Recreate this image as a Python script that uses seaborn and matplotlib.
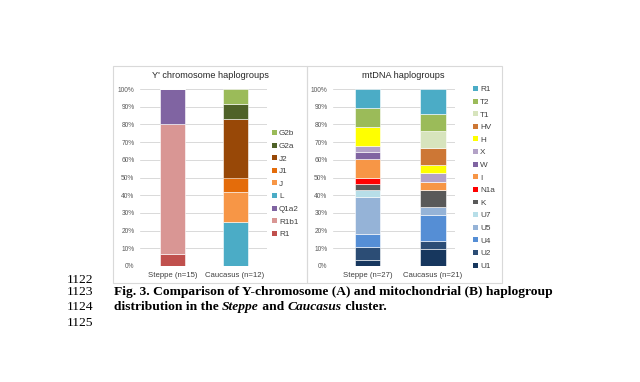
import matplotlib
matplotlib.use("Agg")
import matplotlib.pyplot as plt
import seaborn as sns
import numpy as np
from matplotlib.patches import Rectangle, Patch

# ---------------- data ----------------
y_cats = ["Steppe (n=15)", "Caucasus (n=12)"]
y_groups = ["R1", "R1b1", "Q1a2", "L", "J", "J1", "J2", "G2a", "G2b"]  # bottom -> top
y_steppe = [6.7, 73.3, 20.0, 0, 0, 0, 0, 0, 0]
y_caucasus = [0, 0, 0, 25.0, 16.7, 8.3, 33.3, 8.3, 8.4]
y_colors = ["#c0504d", "#d99694", "#8064a2", "#4bacc6", "#f79646",
            "#e46c0a", "#984807", "#4f6228", "#9bbb59"]

mt_cats = ["Steppe (n=27)", "Caucasus (n=21)"]
mt_groups = ["U1", "U2", "U4", "U5", "U7", "K", "N1a", "I", "W", "X",
             "H", "HV", "T1", "T2", "R1"]  # bottom -> top
mt_steppe = [3.6, 7.1, 7.1, 21.4, 3.6, 3.6, 3.6, 10.7, 3.6, 3.6,
             10.7, 0, 0, 10.7, 10.7]
mt_caucasus = [9.5, 4.8, 14.3, 4.8, 0, 9.5, 0, 4.8, 0, 4.8,
               4.8, 9.5, 9.5, 9.5, 14.2]
mt_colors = ["#17375e", "#2c4d75", "#558ed5", "#95b3d7", "#b7dee8",
             "#595959", "#ff0000", "#f79646", "#8064a2", "#b3a2c7",
             "#ffff00", "#cd7735", "#d7e4bd", "#9bbb59", "#4bacc6"]

y_title = "Y' chromosome haplogroups"
mt_title = "mtDNA haplogroups"
pct_ticks = list(range(0, 101, 10))

# ---------------- style ----------------
sns.set_theme(style="white")
plt.rcParams["font.family"] = ["Liberation Sans", "DejaVu Sans"]

W, H = 640, 382
fig = plt.figure(figsize=(6.4, 3.82), dpi=100)
fig.patch.set_facecolor("white")

def fx(px):
    return px / W

def fy(py):
    return 1 - py / H

# panel frames
for x0, x1 in [(113, 307), (307, 502)]:
    fig.patches.append(Rectangle((fx(x0), fy(283)), fx(x1) - fx(x0), fy(66) - fy(283),
                                 transform=fig.transFigure, fill=False,
                                 edgecolor="#d9d9d9", linewidth=0.8))

def draw_panel(ax, cats, groups, s_vals, c_vals, colors, xlim, width):
    bottom = np.zeros(2)
    for g, a, b, col in zip(groups, s_vals, c_vals, colors):
        vals = np.array([a, b], dtype=float)
        sns.barplot(x=cats, y=vals, bottom=bottom, color=col, width=width,
                    saturation=1, edgecolor="white", linewidth=0.4, ax=ax,
                    zorder=3)
        bottom = bottom + vals
    ax.set_ylim(0, 100)
    ax.set_xlim(*xlim)
    ax.set_yticks(pct_ticks)
    ax.set_yticklabels([f"{t}%" for t in pct_ticks])
    ax.yaxis.grid(True, color="#d9d9d9", linewidth=0.7, zorder=0)
    ax.xaxis.grid(False)
    ax.set_axisbelow(True)
    for s in ax.spines.values():
        s.set_visible(False)
    ax.tick_params(axis="y", labelsize=4.8, labelcolor="#595959", length=0, pad=4)
    ax.tick_params(axis="x", labelsize=5.6, labelcolor="#404040", length=0, pad=4)
    ax.set_xlabel("")
    ax.set_ylabel("")
    ax.patch.set_alpha(0)
    handles = [Patch(facecolor=c, edgecolor="none") for c in colors[::-1]]
    return handles

leg_kw = dict(loc="upper left", bbox_transform=fig.transFigure, frameon=False,
              fontsize=5.9, handlelength=0.55, handleheight=0.55,
              handletextpad=0.3, labelspacing=0.64, borderpad=0,
              borderaxespad=0, labelcolor="#404040")

# left panel
ax1 = fig.add_axes([fx(140), fy(266), fx(267) - fx(140), fy(89) - fy(266)])
h1 = draw_panel(ax1, y_cats, y_groups, y_steppe, y_caucasus, y_colors,
                (-0.52, 1.51), 0.4)
ax1.legend(h1, y_groups[::-1], bbox_to_anchor=(fx(272), fy(130)), **leg_kw)
fig.text(fx(210), fy(75), y_title, ha="center", va="center", fontsize=6.6,
         color="#262626")

# right panel
ax2 = fig.add_axes([fx(333), fy(266), fx(455) - fx(333), fy(89) - fy(266)])
h2 = draw_panel(ax2, mt_cats, mt_groups, mt_steppe, mt_caucasus, mt_colors,
                (-0.527, 1.336), 0.39)
ax2.legend(h2, mt_groups[::-1], bbox_to_anchor=(fx(473), fy(86)), **leg_kw)
fig.text(fx(403), fy(75), mt_title, ha="center", va="center", fontsize=6.6,
         color="#262626")

# ---------------- caption ----------------
serif = ["Liberation Serif", "DejaVu Serif"]
cap_size = 9.7
for num, py in [("1122", 280), ("1123", 292), ("1124", 307), ("1125", 323)]:
    fig.text(fx(93), fy(py), num, ha="right", va="center", fontsize=cap_size,
             family=serif, color="black")

fig.text(fx(114), fy(292),
         "Fig. 3. Comparison of Y-chromosome (A) and mitochondrial (B) haplogroup",
         ha="left", va="center", fontsize=cap_size, family=serif,
         fontweight="bold", color="black")

fig.canvas.draw()
renderer = fig.canvas.get_renderer()
pieces = [("distribution in the ", "normal"), ("Steppe", "italic"),
          (" and ", "normal"), ("Caucasus", "italic"), (" cluster.", "normal")]
x = fx(114)
for txt, style in pieces:
    t = fig.text(x, fy(307), txt, ha="left", va="center", fontsize=cap_size,
                 family=serif, fontweight="bold", fontstyle=style, color="black")
    bb = t.get_window_extent(renderer=renderer)
    x = x + bb.width / fig.bbox.width

fig.savefig("out.png", dpi=100, facecolor="white")
